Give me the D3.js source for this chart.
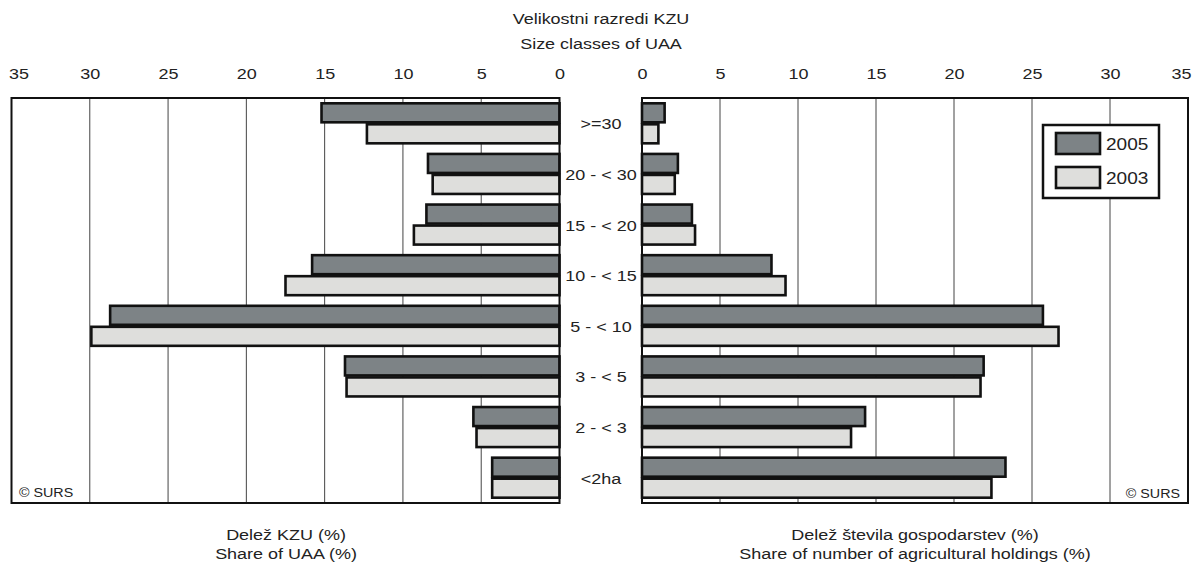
<!DOCTYPE html>
<html><head><meta charset="utf-8">
<script src="https://cdn.jsdelivr.net/npm/d3@7"></script>
<style>body{margin:0;background:#fff;} text{font-family:"Liberation Sans",Arial,sans-serif;fill:#222;}</style>
</head><body><svg id="c" width="1195" height="565"></svg>
<script>
const categories = [">=30","20 - < 30","15 - < 20","10 - < 15","5 - < 10","3 - < 5","2 - < 3","<2ha"];
const seriesNames = ["2005","2003"];
const uaa2005 = [15.2, 8.4, 8.5, 15.8, 28.7, 13.7, 5.5, 4.3];
const uaa2003 = [12.3, 8.1, 9.3, 17.5, 29.9, 13.6, 5.3, 4.3];
const hold2005 = [1.45, 2.3, 3.2, 8.3, 25.7, 21.9, 14.3, 23.3];
const hold2003 = [1.05, 2.1, 3.4, 9.2, 26.7, 21.7, 13.4, 22.4];
const tickValues = [0,5,10,15,20,25,30,35];
const colors = {"2005":"#7d8386","2003":"#dededc"};

const SX = 1.16, FS = 15.5;
const svg = d3.select("#c");
const plotTop = 98, plotBottom = 503;
const y = d3.scaleBand().domain(categories).range([plotTop,plotBottom]).paddingInner(0.17).paddingOuter(0.085);
const ySub = d3.scaleBand().domain(seriesNames).range([0,y.bandwidth()]);

const xL = d3.scaleLinear().domain([0,35]).range([559.5,11.5]);
const xR = d3.scaleLinear().domain([0,35]).range([642,1188]);

function label(x, yy, str, size, anchor, sx){
  return svg.append("text").attr("transform",`translate(${x},${yy}) scale(${sx||SX},1)`)
    .attr("text-anchor",anchor||"middle").attr("font-size",size||FS).text(str);
}

function panel(x, d05, d03, edgeShift){
  const g = svg.append("g");
  g.selectAll("line.grid").data(tickValues).join("line")
    .attr("x1",d=>x(d)).attr("x2",d=>x(d)).attr("y1",plotTop).attr("y2",plotBottom)
    .attr("stroke","#444").attr("stroke-width",1);
  const ax = d3.axisTop(x).tickValues(tickValues).tickSize(0).tickPadding(0);
  const a = g.append("g").attr("transform",`translate(0,${79})`).call(ax);
  a.select(".domain").remove();
  a.selectAll("text").attr("font-size",FS).attr("fill","#222")
    .attr("transform",`scale(${SX},1)`)
    .attr("dx",d=>d===35?edgeShift:0)
    .style("font-family","Liberation Sans, Arial, sans-serif");
  const rows = [];
  categories.forEach((c,i)=>{rows.push({c,s:"2005",v:d05[i]});rows.push({c,s:"2003",v:d03[i]});});
  g.selectAll("rect.bar").data(rows).join("rect")
    .attr("x",d=>Math.min(x(0),x(d.v))).attr("width",d=>Math.abs(x(d.v)-x(0)))
    .attr("y",d=>y(d.c)+ySub(d.s)+1).attr("height",ySub.bandwidth()-2)
    .attr("fill",d=>colors[d.s]).attr("stroke","#111").attr("stroke-width",2.6);
  const x0 = Math.min(x(0),x(35)), x1 = Math.max(x(0),x(35));
  g.append("rect").attr("x",x0).attr("y",plotTop).attr("width",x1-x0).attr("height",plotBottom-plotTop)
    .attr("fill","none").attr("stroke","#111").attr("stroke-width",2);
}
panel(xL, uaa2005, uaa2003, 6);
panel(xR, hold2005, hold2003, -6);

svg.selectAll("text.cat").data(categories).join("text").attr("class","cat")
  .attr("transform",d=>`translate(601,${y(d)+y.bandwidth()/2+6}) scale(${SX},1)`)
  .attr("text-anchor","middle").attr("font-size",FS).text(d=>d);

label(601,24,"Velikostni razredi KZU");
label(601,49,"Size classes of UAA");
label(286,540,"Delež KZU (%)");
label(286,559,"Share of UAA (%)");
label(915,540,"Delež števila gospodarstev (%)");
label(915,559,"Share of number of agricultural holdings (%)");

label(19,497,"© SURS",13,"start",1.1);
label(1180,498,"© SURS",13,"end",1.1);

const lg = svg.append("g");
lg.append("rect").attr("x",1043).attr("y",125).attr("width",116).attr("height",73)
  .attr("fill","#fff").attr("stroke","#111").attr("stroke-width",2.5);
seriesNames.forEach((s,i)=>{
  lg.append("rect").attr("x",1056).attr("y",133+i*34).attr("width",44).attr("height",21)
    .attr("fill",colors[s]).attr("stroke","#111").attr("stroke-width",2.6);
  label(1106,150+i*34,s,17,"start",1.12);
});
</script></body></html>
